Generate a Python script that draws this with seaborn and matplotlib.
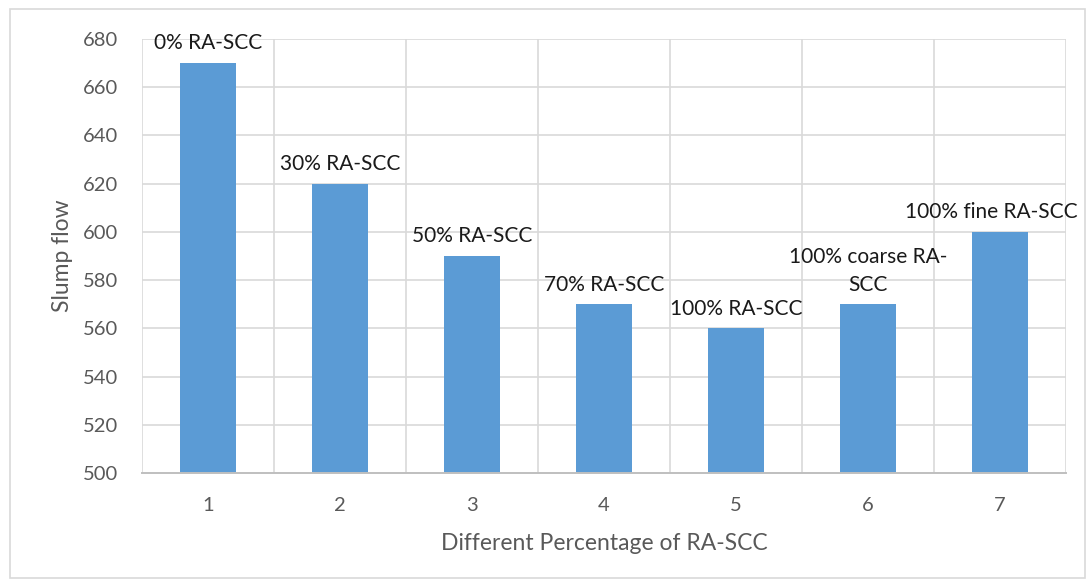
import matplotlib
matplotlib.use("Agg")
import matplotlib.pyplot as plt
import seaborn as sns
import pandas as pd
from matplotlib.patches import Rectangle

# Slump flow results per mix
mixes = ["1", "2", "3", "4", "5", "6", "7"]
slump_flow = [670, 620, 590, 570, 560, 570, 600]
mix_labels = ["0% RA-SCC", "30% RA-SCC", "50% RA-SCC", "70% RA-SCC",
              "100% RA-SCC", "100% coarse RA-\nSCC", "100% fine RA-SCC"]
y_ticks = [500, 520, 540, 560, 580, 600, 620, 640, 660, 680]

sns.set_theme(style="white")
plt.rcParams["font.family"] = ["Lato", "DejaVu Sans"]

df = pd.DataFrame({"mix": mixes, "flow": slump_flow})

fig = plt.figure(figsize=(10.9, 5.83), dpi=100)
ax = fig.add_axes([0.1303, 0.1887, 0.8477, 0.7443])

bar_color = "#5B9BD5"
sns.barplot(data=df, x="mix", y="flow", order=mixes, color=bar_color,
            saturation=1, width=0.43, ax=ax, edgecolor="none")

ax.set_ylim(500, 680)
ax.set_yticks(y_ticks)
ax.set_xlim(-0.5, len(mixes) - 0.5)

# Gridlines: horizontal at ticks, vertical between categories
grid_color = "#D9D9D9"
for v in y_ticks[1:]:
    ax.axhline(v, color=grid_color, lw=1.2, zorder=0)
for k in range(len(mixes) + 1):
    ax.axvline(k - 0.5, color=grid_color, lw=1.2, zorder=0)

for side in ["top", "right", "left"]:
    ax.spines[side].set_visible(False)
ax.spines["bottom"].set_color("#BFBFBF")
ax.spines["bottom"].set_linewidth(1.4)
ax.spines["bottom"].set_zorder(5)

ax.tick_params(axis="both", length=0, labelsize=14.5, labelcolor="#595959")
ax.tick_params(axis="y", pad=17)
ax.tick_params(axis="x", pad=17)
ax.set_xlabel("Different Percentage of RA-SCC", fontsize=16.5, color="#595959", labelpad=14)
ax.set_ylabel("Slump flow", fontsize=16.5, color="#595959", labelpad=7)

# Data labels above each bar
for i, (val, lab) in enumerate(zip(slump_flow, mix_labels)):
    dx = -6 if i == len(mixes) - 1 else 0
    ax.annotate(lab, xy=(i, val), xytext=(dx, 7), textcoords="offset points",
                ha="center", va="bottom", fontsize=15, color="#1a1a1a",
                linespacing=1.45, annotation_clip=False)

# Chart area border
fig.patches.append(Rectangle((10 / 1090, 5 / 583), 1075 / 1090, 569 / 583,
                             transform=fig.transFigure, fill=False,
                             edgecolor="#D9D9D9", lw=1.2))

fig.savefig("out.png", dpi=100)
